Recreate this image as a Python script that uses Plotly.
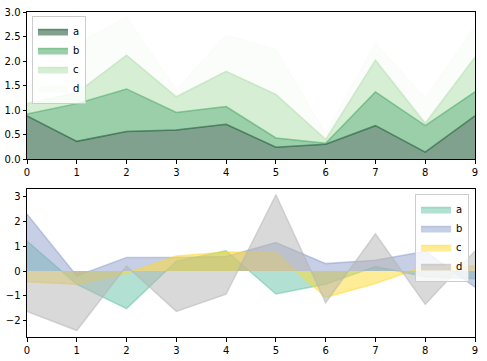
import plotly.graph_objects as go

x = list(range(10))

# Top (stacked area) series values
top_a = [0.88, 0.36, 0.56, 0.59, 0.71, 0.24, 0.30, 0.68, 0.14, 0.88]
top_b = [0.04, 0.77, 0.87, 0.36, 0.36, 0.19, 0.02, 0.69, 0.54, 0.49]
top_c = [0.21, 0.22, 0.69, 0.32, 0.72, 0.89, 0.08, 0.65, 0.05, 0.71]
top_d = [0.42, 0.98, 0.78, 0.14, 0.74, 0.91, 0.12, 0.34, 0.51, 0.63]

# Bottom (unstacked area) series values
bot_a = [1.21, -0.53, -1.51, 0.40, 0.82, -0.92, -0.53, 0.18, -0.23, -0.31]
bot_b = [2.29, -0.20, 0.55, 0.55, 0.59, 1.15, 0.30, 0.44, 0.80, -0.65]
bot_c = [-0.43, -0.53, -0.09, 0.61, 0.77, 0.74, -1.06, -0.50, 0.19, 0.19]
bot_d = [-1.62, -2.39, 0.20, -1.62, -0.93, 3.07, -1.27, 1.50, -1.34, 0.81]

names = ["a", "b", "c", "d"]
top_series = [top_a, top_b, top_c, top_d]
bot_series = [bot_a, bot_b, bot_c, bot_d]

top_colors = [(0, 68, 27), (55, 160, 85), (174, 222, 167), (247, 252, 245)]
bot_colors = [(102, 194, 165), (141, 160, 203), (255, 217, 47), (179, 179, 179)]


def rgba(c, a=0.5):
    return f"rgba({c[0]},{c[1]},{c[2]},{a})"


fig = go.Figure()

for n, s, c in zip(names, top_series, top_colors):
    fig.add_trace(go.Scatter(
        x=x, y=s, name=n, mode="lines", stackgroup="top",
        line=dict(color=rgba(c), width=1.5), fillcolor=rgba(c),
        xaxis="x", yaxis="y", legend="legend",
    ))

for n, s, c in zip(names, bot_series, bot_colors):
    fig.add_trace(go.Scatter(
        x=x, y=s, name=n, mode="lines", fill="tozeroy",
        line=dict(color=rgba(c), width=1.5), fillcolor=rgba(c),
        xaxis="x2", yaxis="y2", legend="legend2",
    ))

W, H = 487, 361
ml, mr, mt, mb = 27, 12, 12, 24
ph = H - mt - mb

axis_common = dict(
    showline=True, linecolor="black", linewidth=1, mirror=True,
    ticks="outside", ticklen=3.5, tickcolor="black", tickwidth=1,
    showgrid=False, zeroline=False, automargin=False,
    tickfont=dict(family="DejaVu Sans", size=10, color="black"),
)

legend_common = dict(
    bgcolor="rgba(255,255,255,0.8)", bordercolor="#cccccc", borderwidth=1,
    font=dict(family="DejaVu Sans", size=10, color="black"),
    tracegroupgap=0, itemwidth=30, traceorder="normal",
)

fig.update_layout(
    width=W, height=H,
    margin=dict(l=ml, r=mr, t=mt, b=mb, autoexpand=False),
    paper_bgcolor="white", plot_bgcolor="white",
    font=dict(family="DejaVu Sans", size=10, color="black"),
    xaxis=dict(domain=[0, 1], range=[0, 9], dtick=1, anchor="y", **axis_common),
    yaxis=dict(domain=[(337 - 159) / ph, 1], range=[0, 3], dtick=0.5,
               tickformat=".1f", anchor="x", **axis_common),
    xaxis2=dict(domain=[0, 1], range=[0, 9], dtick=1, anchor="y2", **axis_common),
    yaxis2=dict(domain=[0, (337 - 189) / ph], range=[-2.65, 3.3], dtick=1,
                anchor="x2", **axis_common),
    legend=dict(x=(32 - ml) / (W - ml - mr), y=(337 - 16) / ph,
                xanchor="left", yanchor="top", **legend_common),
    legend2=dict(x=(469 - ml) / (W - ml - mr), y=(337 - 194) / ph,
                 xanchor="right", yanchor="top", **legend_common),
    showlegend=True,
)

fig.write_html(
    "out.html",
    config={"displayModeBar": False},
    post_script="document.body.style.margin='0';document.body.style.overflow='hidden';",
)
